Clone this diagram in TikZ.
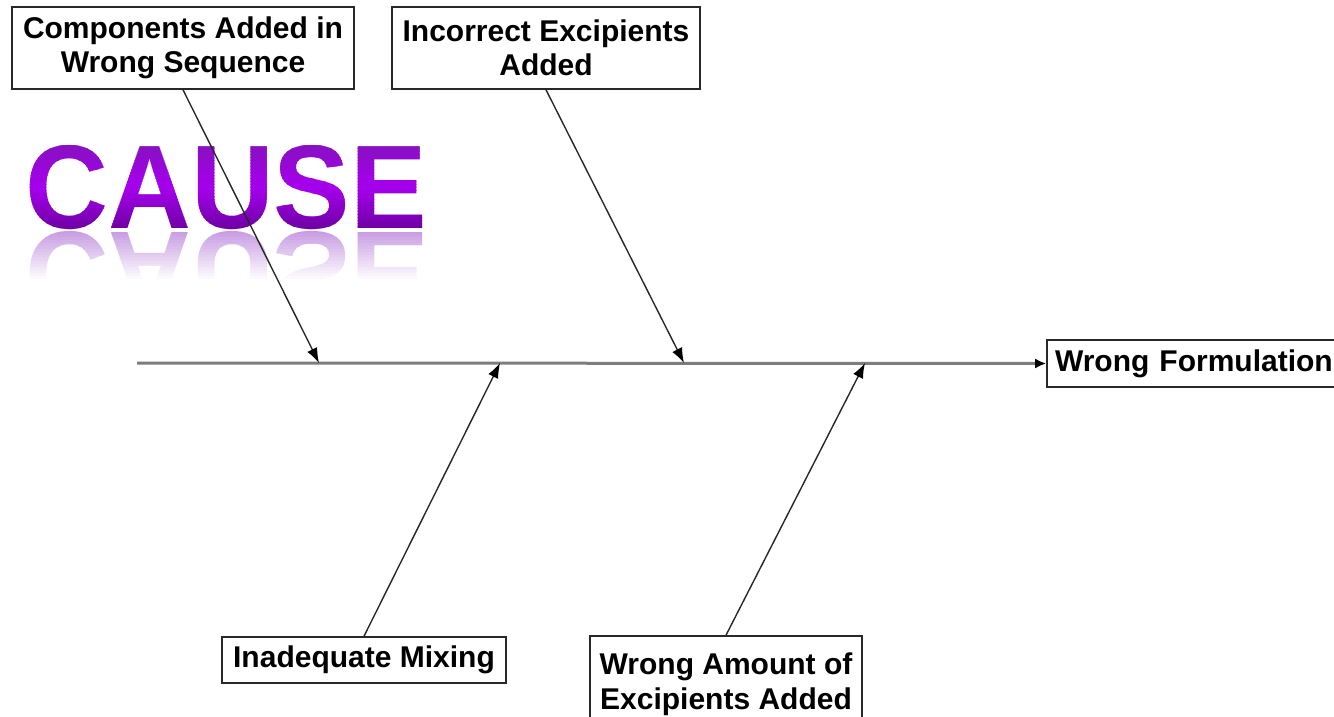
\documentclass[tikz,border=0pt]{standalone}
\usepackage{fontspec}
\setmainfont{Liberation Sans}
\usetikzlibrary{arrows.meta}

\definecolor{cTop}{RGB}{130,20,185}
\definecolor{cMid}{RGB}{165,0,235}
\definecolor{cBot}{RGB}{100,0,150}
\definecolor{cRef}{RGB}{190,140,222}
\definecolor{boneline}{RGB}{125,125,125}
\definecolor{ribline}{RGB}{40,40,40}

\newcommand{\causeword}{\scalebox{0.965}[1]{\fontsize{119}{119}\selectfont\bfseries CAUSE}}

\tikzset{
  causebox/.style={draw=ribline, line width=1.6pt, fill=white, align=center,
    inner sep=0pt, font=\fontsize{30}{34.5}\selectfont\bfseries},
  rib/.style={draw=ribline, line width=1.4pt, -{Latex[length=15pt,width=11pt,color=black]}},
  spine/.style={draw=boneline, line width=3pt, -{Latex[length=11pt,width=10pt,color=black]}},
}

\begin{document}
\begin{tikzpicture}[x=1pt, y=-1pt]
  \useasboundingbox (0,0) rectangle (1334,717);
  \fill[white] (0,0) rectangle (1334,717);

  % title word with a vertical purple gradient, painted band by band
  \foreach \i in {0,...,33} {
    \pgfmathsetmacro{\ya}{136+\i*3}
    \pgfmathsetmacro{\yb}{\ya+3.2}
    \pgfmathtruncatemacro{\p}{\i<17 ? 100-\i*100/16 : 100-(\i-17)*100/16}
    \ifnum\i<17
      \colorlet{bandcol}{cTop!\p!cMid}
    \else
      \colorlet{bandcol}{cMid!\p!cBot}
    \fi
    \begin{scope}
      \clip (0,\ya) rectangle (1334,\yb);
      \node[anchor=base west, inner sep=0pt, text=bandcol] at (25,228) {\causeword};
    \end{scope}
  }
  % its mirrored reflection fading out below
  \foreach \i in {0,...,16} {
    \pgfmathsetmacro{\ya}{231+\i*3}
    \pgfmathsetmacro{\yb}{\ya+3.2}
    \pgfmathtruncatemacro{\p}{max(0,85-\i*5.3)}
    \colorlet{bandcol}{cRef!\p!white}
    \begin{scope}
      \clip (0,\ya) rectangle (1334,\yb);
      \node[anchor=base west, inner sep=0pt, text=bandcol] at (25,232) {\scalebox{1}[-1]{\causeword}};
    \end{scope}
  }

  % cause boxes
  \node[causebox, minimum width=342pt, minimum height=82pt] (seq) at (183,48)
    {Components Added in\\Wrong Sequence};
  \node[causebox, minimum width=308pt, minimum height=82pt] (exc) at (546,48)
    {Incorrect Excipients\\Added};
  \node[causebox, minimum width=284pt, minimum height=46pt] (mix) at (364,660)
    {Inadequate Mixing};
  \node[causebox, minimum width=272pt, minimum height=96pt] (amt) at (726,684)
    {Wrong Amount of\\Excipients Added};
  \node[causebox, minimum width=296pt, minimum height=47pt, text width=290pt, align=left] (eff) at (1195,363.5)
    {\hspace*{5pt}Wrong Formulation};

  % spine
  \coordinate (tail) at (137,363);
  \coordinate (j1) at (319,363);
  \coordinate (j2) at (684,363);
  \coordinate (j3) at (500,363);
  \coordinate (j4) at (865,363);
  \draw[spine] (tail) -- (eff.west);

  % ribs
  \draw[rib] (seq.south) -- (j1);
  \draw[rib] (exc.south) -- (j2);
  \draw[rib] (mix.north) -- (j3);
  \draw[rib] (amt.north) -- (j4);
\end{tikzpicture}
\end{document}
